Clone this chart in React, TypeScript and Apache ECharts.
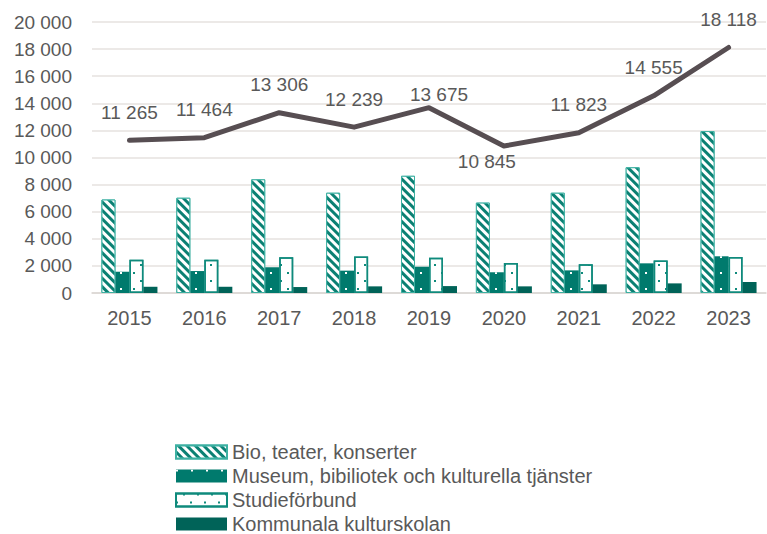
import React, { useEffect, useRef } from "react";
import * as echarts from "echarts";

const years = ["2015", "2016", "2017", "2018", "2019", "2020", "2021", "2022", "2023"];
const bio = [6900, 7030, 8390, 7400, 8650, 6670, 7400, 9280, 11950];
const museum = [1570, 1620, 1900, 1650, 1940, 1530, 1670, 2190, 2710];
const studie = [2450, 2450, 2630, 2700, 2610, 2220, 2120, 2390, 2660];
const kommunala = [460, 460, 440, 490, 510, 490, 640, 710, 810];
const total = [11265, 11464, 13306, 12239, 13675, 10845, 11823, 14555, 18118];

const fmt = (v: number) => String(v).replace(/\B(?=(\d{3})+(?!\d))/g, " ");
const FONT = "'Liberation Sans', Arial, sans-serif";

export default function App() {
  const ref = useRef<HTMLDivElement>(null);
  useEffect(() => {
    if (!ref.current) return;
    const chart = echarts.init(ref.current, undefined, { renderer: "svg" });
    const lineData = total.map((v, i) => {
      if (i === 4) return { value: v, label: { distance: 3, offset: [10, 0] } };
      if (i === 5) return { value: v, label: { position: "bottom", distance: 5, offset: [-17, 0] } };
      return { value: v };
    });
    chart.setOption({
      animation: false,
      textStyle: { fontFamily: FONT },
      grid: { left: 92, right: 1, top: 22, bottom: 241 },
      legend: {
        orient: "vertical",
        left: 175,
        top: 442,
        height: 120,
        padding: 0,
        icon: "rect",
        itemWidth: 51,
        itemHeight: 13,
        itemGap: 4,
        textStyle: { fontSize: 20, lineHeight: 20, color: "#595959", fontFamily: FONT },
        data: ["Bio, teater, konserter", "Museum, bibiliotek och kulturella tjänster", "Studieförbund", "Kommunala kulturskolan"],
      },
      xAxis: {
        type: "category",
        data: years,
        axisTick: { show: false },
        axisLine: { lineStyle: { color: "#D9D5D2", width: 1.5 } },
        axisLabel: { color: "#595959", fontSize: 20, margin: 15, fontFamily: FONT },
      },
      yAxis: {
        type: "value",
        min: 0,
        max: 20000,
        interval: 2000,
        axisLabel: { color: "#595959", fontSize: 19, margin: 20, formatter: (v: number) => fmt(v), fontFamily: FONT },
        splitLine: { lineStyle: { color: "#E6E2DF", width: 1.5 } },
      },
      series: [
        {
          name: "Bio, teater, konserter",
          type: "bar",
          data: bio,
          barWidth: 14,
          barGap: "0%",
          itemStyle: {
            color: "#0B8073",
            borderColor: "#3DB0A2",
            borderWidth: 1,
            decal: {
              symbol: "rect",
              symbolSize: 1,
              color: "#ffffff",
              dashArrayX: [[1, 0]],
              dashArrayY: [3, 3],
              rotation: Math.PI / 4,
            },
          },
        },
        {
          name: "Museum, bibiliotek och kulturella tjänster",
          type: "bar",
          data: museum,
          barWidth: 14,
          barGap: "0%",
          itemStyle: {
            color: "#007A6D",
            decal: {
              symbol: "rect",
              symbolSize: 1,
              color: "#ffffff",
              dashArrayX: [[2, 13]],
              dashArrayY: [2, 14],
              rotation: 0,
            },
          },
        },
        {
          name: "Studieförbund",
          type: "bar",
          data: studie,
          barWidth: 14,
          barGap: "0%",
          itemStyle: {
            color: "#ffffff",
            borderColor: "#0F8A7C",
            borderWidth: 1.5,
            decal: {
              symbol: "rect",
              symbolSize: 1,
              color: "#0F8A7C",
              dashArrayX: [[2, 12], [0, 7, 2, 5]],
              dashArrayY: [2, 6],
              rotation: 0,
            },
          },
        },
        {
          name: "Kommunala kulturskolan",
          type: "bar",
          data: kommunala,
          barWidth: 14,
          barGap: "0%",
          itemStyle: { color: "#006358" },
        },
        {
          name: "Totalt",
          type: "line",
          data: lineData,
          symbol: "circle",
          symbolSize: 1,
          showSymbol: true,
          itemStyle: { color: "#574E52" },
          z: 5,
          lineStyle: { color: "#574E52", width: 5, cap: "round", join: "round" },
          label: {
            show: true,
            position: "top",
            distance: 18,
            color: "#595959",
            fontSize: 19,
            fontFamily: FONT,
            formatter: (p: any) => fmt(p.value),
          },
        },
      ],
    });
    return () => chart.dispose();
  }, []);
  return <div ref={ref} style={{ width: 767, height: 534, position: "absolute", left: 0, top: 0 }} />;
}
